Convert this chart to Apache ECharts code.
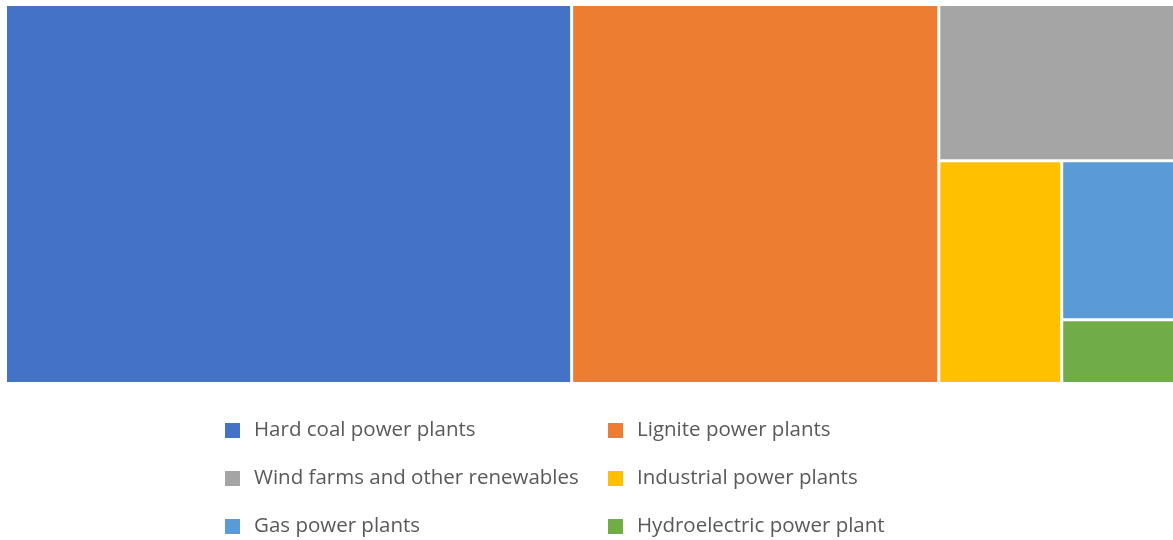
<!DOCTYPE html>
<html>
<head>
<meta charset="utf-8">
<script src="https://cdn.jsdelivr.net/npm/echarts@6/dist/echarts.min.js"></script>
<style>
  html, body { margin: 0; padding: 0; background: #fff; }
  #chart { width: 1173px; height: 540px; }
</style>
</head>
<body>
<div id="chart"></div>
<script>
// share of electricity production, %
var categories = [
  "Hard coal power plants",
  "Lignite power plants",
  "Wind farms and other renewables",
  "Industrial power plants",
  "Gas power plants",
  "Hydroelectric power plant"
];
var values = [47.8, 31.0, 8.2, 6.1, 4.0, 1.6];
var colors = ["#4472C4", "#ED7D31", "#A5A5A5", "#FFC000", "#5B9BD5", "#70AD47"];

var leftCol = [categories[0], categories[2], categories[4]];
var rightCol = [categories[1], categories[3], categories[5]];

var myChart = echarts.init(document.getElementById('chart'));

var legendBase = {
  orient: 'vertical',
  top: 420,
  height: 120,
  padding: 0,
  itemWidth: 15,
  itemHeight: 15,
  itemGap: 27,
  icon: 'rect',
  selectedMode: false,
  textStyle: {
    fontFamily: 'Open Sans',
    fontSize: 20.5,
    color: '#595959',
    padding: [0, 0, 0, 9]
  }
};

var option = {
  animation: false,
  color: colors,
  legend: [
    Object.assign({}, legendBase, { left: 225, data: leftCol }),
    Object.assign({}, legendBase, { left: 608, data: rightCol })
  ],
  series: [
    {
      type: 'treemap',
      left: 7,
      top: 6,
      right: 0,
      bottom: 158,
      roam: false,
      nodeClick: false,
      breadcrumb: { show: false },
      label: { show: false },
      squareRatio: 1,
      levels: [
        { itemStyle: { borderWidth: 0, gapWidth: 3 } },
        { itemStyle: { borderWidth: 0 } }
      ],
      data: categories.map(function (c, i) {
        return { name: c, value: values[i], itemStyle: { color: colors[i] } };
      })
    },
    {
      // invisible series that only feeds the legend
      type: 'pie',
      radius: [0, 0],
      silent: true,
      label: { show: false },
      labelLine: { show: false },
      data: categories.map(function (c, i) {
        return { name: c, value: values[i], itemStyle: { color: colors[i] } };
      })
    }
  ]
};
myChart.setOption(option);
</script>
</body>
</html>
